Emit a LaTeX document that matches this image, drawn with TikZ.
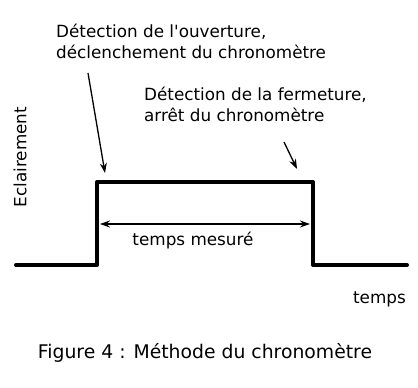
\documentclass[tikz,border=0pt]{standalone}
\usepackage{fontspec}
\setmainfont{DejaVu Sans}[Ligatures=TeXOff]
\usetikzlibrary{arrows.meta}
\begin{document}
\begin{tikzpicture}[x=1pt,y=-1pt,
  sig/.style={line width=4pt,line join=round,line cap=round},
  lbl/.style={font=\fontsize{16.8}{20.5}\selectfont,inner sep=0pt,align=left},
  ptr/.style={line width=1.3pt,-{Stealth[length=10pt,width=7pt]}},
  dim/.style={line width=1.3pt,{Stealth[length=10pt,width=7pt]}-{Stealth[length=10pt,width=7pt]}}]
\useasboundingbox (0,0) rectangle (418,388);
\coordinate (s0) at (16,265);
\coordinate (s1) at (97,265);
\coordinate (s2) at (97,182);
\coordinate (s3) at (313,182);
\coordinate (s4) at (313,265);
\coordinate (s5) at (407,265);
\draw[sig] (s0) -- (s1) -- (s2) -- (s3) -- (s4) -- (s5);
\coordinate (m0) at (100,224);
\coordinate (m1) at (310,224);
\draw[dim] (m0) -- (m1);
\node[lbl,anchor=center] (tm) at (193,241) {temps mesuré};
\node[lbl,anchor=east] (tt) at (406,299) {temps};
\node[lbl,anchor=center,rotate=90] (ec) at (20,157) {Eclairement};
\node[lbl,anchor=north west] (t1) at (56,24) {Détection de l'ouverture,\\déclenchement du chronomètre};
\node[lbl,anchor=north west] (t2) at (144,87) {Détection de la fermeture,\\arrêt du chronomètre};
\coordinate (a1s) at (88,73);
\coordinate (a1e) at (105,173);
\draw[ptr] (a1s) -- (a1e);
\coordinate (a2s) at (284,142);
\coordinate (a2e) at (297,169);
\draw[ptr] (a2s) -- (a2e);
\node[font=\fontsize{18.8}{22}\selectfont,inner sep=0pt,anchor=center] (cap) at (205,353) {Figure 4 : Méthode du chronomètre};
\end{tikzpicture}
\end{document}
